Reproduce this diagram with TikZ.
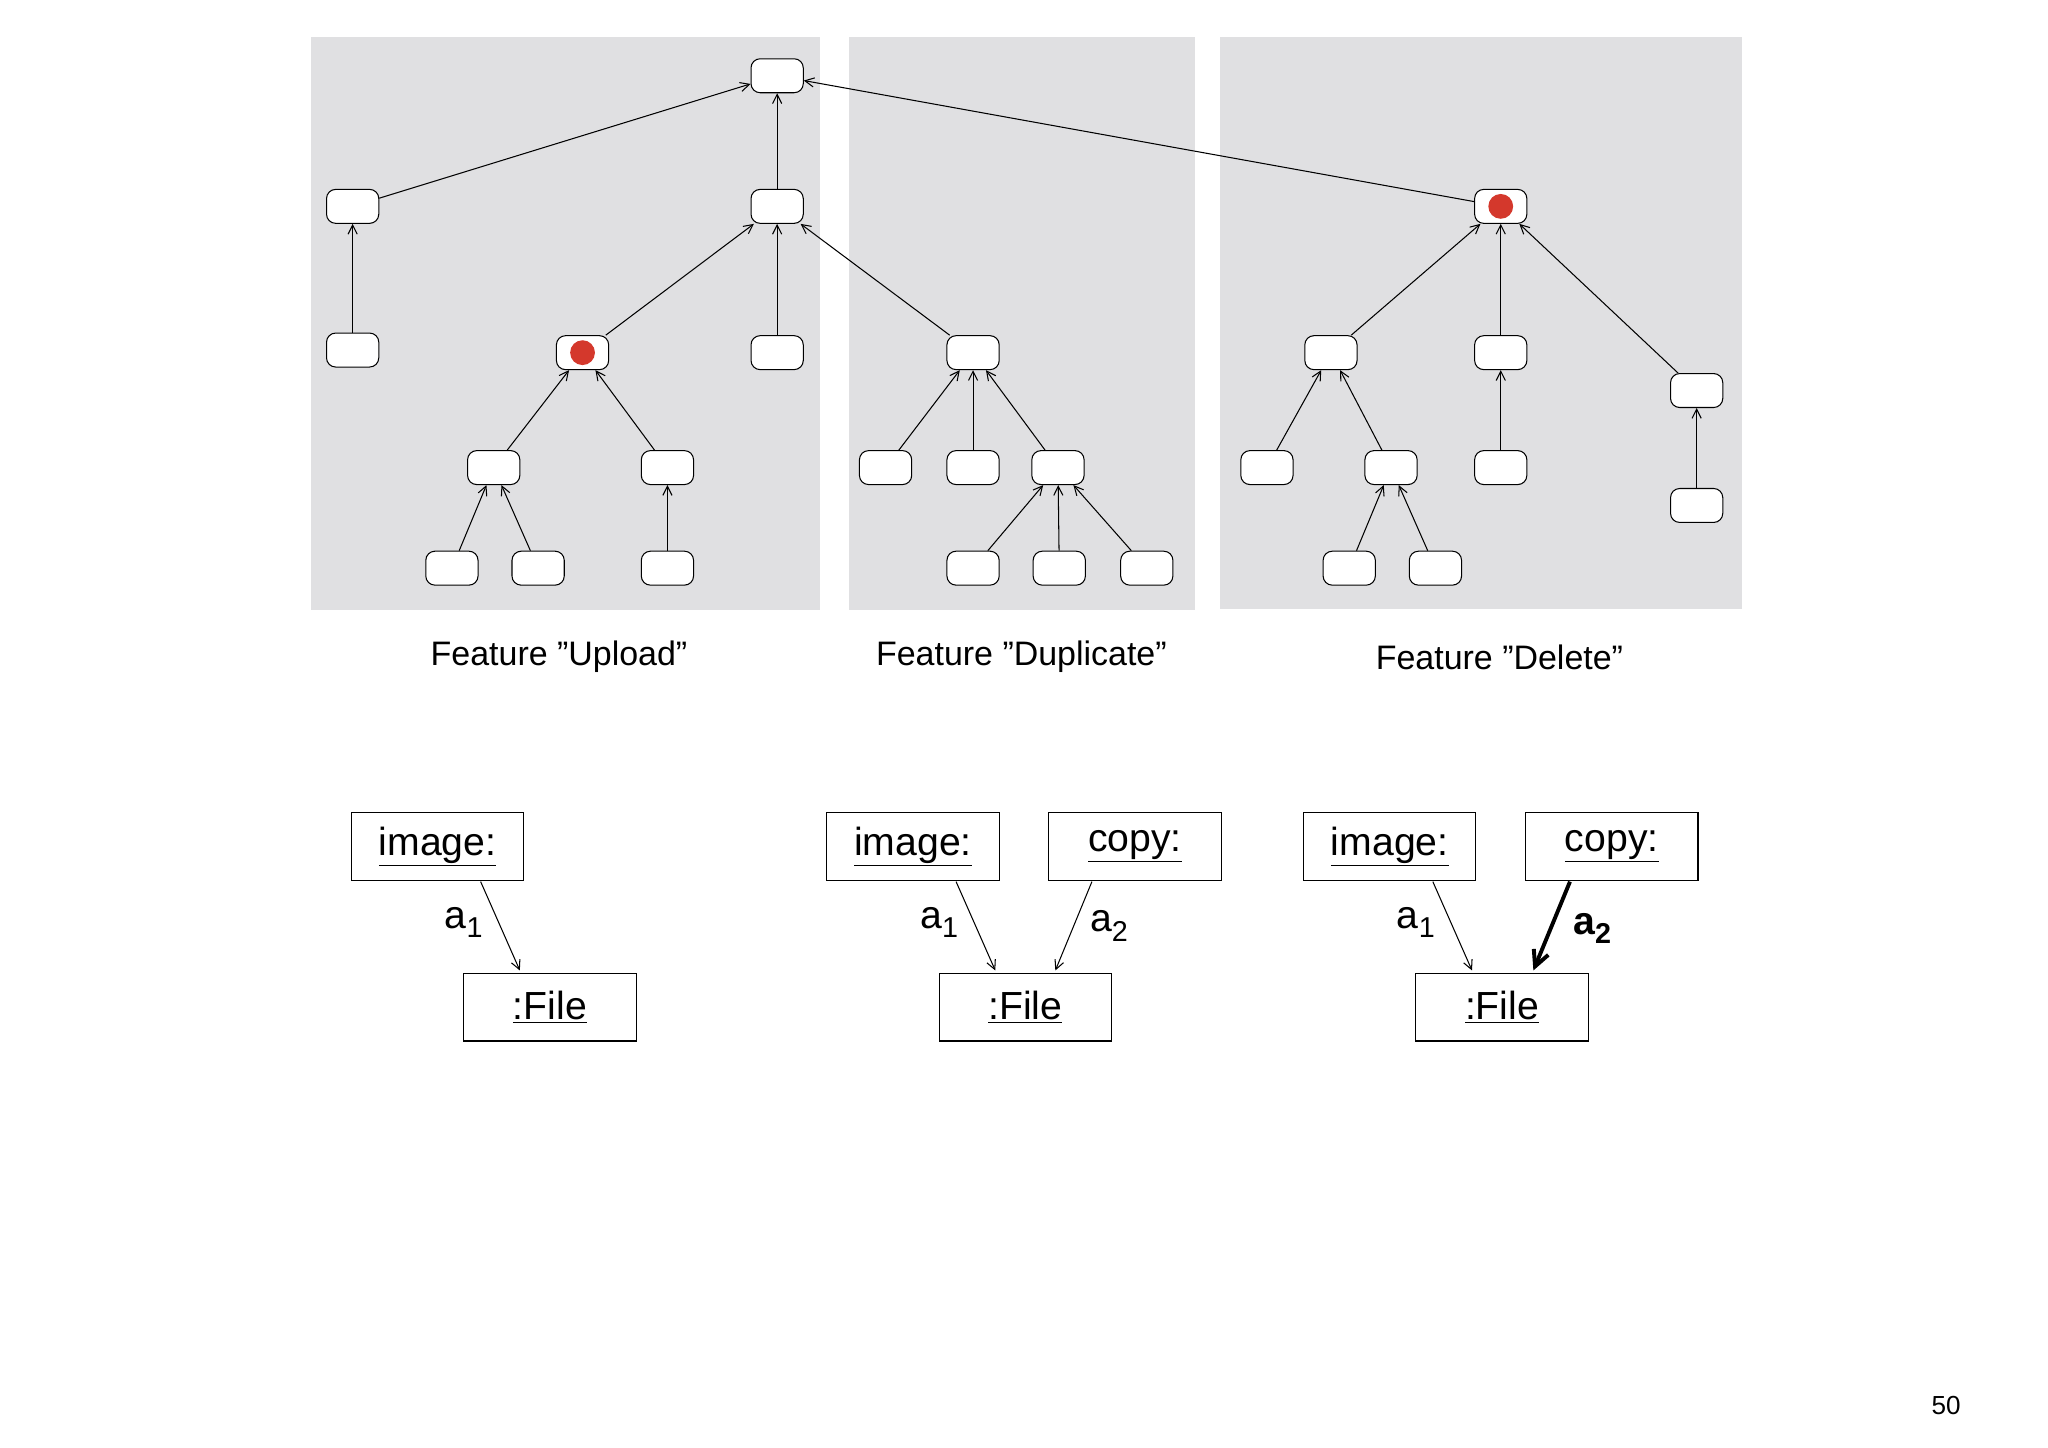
\documentclass[tikz,border=0pt]{standalone}
\usepackage{fontspec}
\setmainfont{Liberation Sans}
\usetikzlibrary{arrows.meta}
\definecolor{panel}{RGB}{224,224,226}
\definecolor{dotred}{RGB}{212,56,44}
\newcommand{\mysub}[1]{\raisebox{-0.45ex}{\fontsize{22}{22}\selectfont #1}}
\begin{document}
\begin{tikzpicture}[x=1pt,y=-1pt,
  tn/.style={draw,thick,fill=white,rounded corners=7pt,minimum width=40pt,minimum height=26pt,inner sep=0pt},
  ed/.style={-{Straight Barb[length=7pt,width=7pt]},line width=0.8pt},
  ob/.style={draw,line width=0.8pt,minimum width=132pt,minimum height=52pt,inner sep=0pt,font=\fontsize{30}{34}\selectfont},
  lbl/.style={font=\fontsize{26}{30}\selectfont}]
\useasboundingbox (0,0) rectangle (1568,1108);
\fill[panel] (238,28) rectangle (628,467);
\fill[panel] (650,28) rectangle (915,467);
\fill[panel] (934,28) rectangle (1334,466);
% nodes
\node[tn] (R) at (595,58) {};
\node[tn] (A) at (270,158) {};
\node[tn] (A1) at (270,268) {};
\node[tn] (B) at (595,158) {};
\node[tn] (C) at (446,270) {};
\node[tn] (D) at (595,270) {};
\node[tn] (E) at (378,358) {};
\node[tn] (F) at (511,358) {};
\node[tn] (E1) at (346,435) {};
\node[tn] (E2) at (412,435) {};
\node[tn] (F1) at (511,435) {};
\node[tn] (G) at (745,270) {};
\node[tn] (G1) at (678,358) {};
\node[tn] (G2) at (745,358) {};
\node[tn] (G3) at (810,358) {};
\node[tn] (G31) at (745,435) {};
\node[tn] (G32) at (811,435) {};
\node[tn] (G33) at (878,435) {};
\node[tn] (H) at (1149,158) {};
\node[tn] (H1) at (1019,270) {};
\node[tn] (H2) at (1149,270) {};
\node[tn] (H3) at (1299,299) {};
\node[tn] (H11) at (970,358) {};
\node[tn] (H12) at (1065,358) {};
\node[tn] (H21) at (1149,358) {};
\node[tn] (H31) at (1299,387) {};
\node[tn] (H121) at (1033,435) {};
\node[tn] (H122) at (1099,435) {};
\fill[dotred] (C) circle (9.5);
\fill[dotred] (H) circle (9.5);
% edges
\foreach \c/\p in {A/R,B/R,H/R,A1/A,C/B,D/B,G/B,E/C,F/C,E1/E,E2/E,F1/F,G1/G,G2/G,G3/G,G31/G3,G32/G3,G33/G3,H1/H,H2/H,H3/H,H11/H1,H12/H1,H21/H2,H31/H3,H121/H12,H122/H12}
  \draw[ed] (\c) -- (\p);
% labels
\node[lbl] (L1) at (428,503) {Feature "Upload"};
\node[lbl] (L2) at (782,503) {Feature "Duplicate"};
\node[lbl] (L3) at (1148,503) {Feature "Delete"};
% object diagrams
\node[ob] (i1) at (335,648) {\underline{image:}};
\node[ob] (f1) at (421,771) {\underline{:File}};
\node[ob] (i2) at (699,648) {\underline{image:}};
\node[ob] (c2) at (869,648) {\underline{copy:}};
\node[ob] (f2) at (785,771) {\underline{:File}};
\node[ob] (i3) at (1064,648) {\underline{image:}};
\node[ob] (c3) at (1234,648) {\underline{copy:}};
\node[ob] (f3) at (1150,771) {\underline{:File}};
\coordinate (s1) at (368,675); \coordinate (t1) at (398,743);
\coordinate (s2) at (732,675); \coordinate (t2) at (762,743);
\coordinate (s3) at (836,675); \coordinate (t3) at (808,743);
\coordinate (s4) at (1097,675); \coordinate (t4) at (1127,743);
\coordinate (s5) at (1202,675); \coordinate (t5) at (1174,743);
\draw[ed] (s1) -- (t1);
\draw[ed] (s2) -- (t2);
\draw[ed] (s3) -- (t3);
\draw[ed] (s4) -- (t4);
\draw[-{Straight Barb[length=12pt,width=12pt]},line width=3pt] (s5) -- (t5);
\node[font=\fontsize{30}{34}\selectfont] (a1) at (355,706) {a\mysub{1}};
\node[font=\fontsize{30}{34}\selectfont] (a2) at (719,706) {a\mysub{1}};
\node[font=\fontsize{30}{34}\selectfont] (a3) at (849,709) {a\mysub{2}};
\node[font=\fontsize{30}{34}\selectfont] (a4) at (1084,706) {a\mysub{1}};
\node[font=\fontsize{30}{34}\selectfont\bfseries] (a5) at (1219,711) {a\mysub{\bfseries 2}};
\node[font=\fontsize{20}{24}\selectfont] (pg) at (1490,1076) {50};
\end{tikzpicture}
\end{document}
